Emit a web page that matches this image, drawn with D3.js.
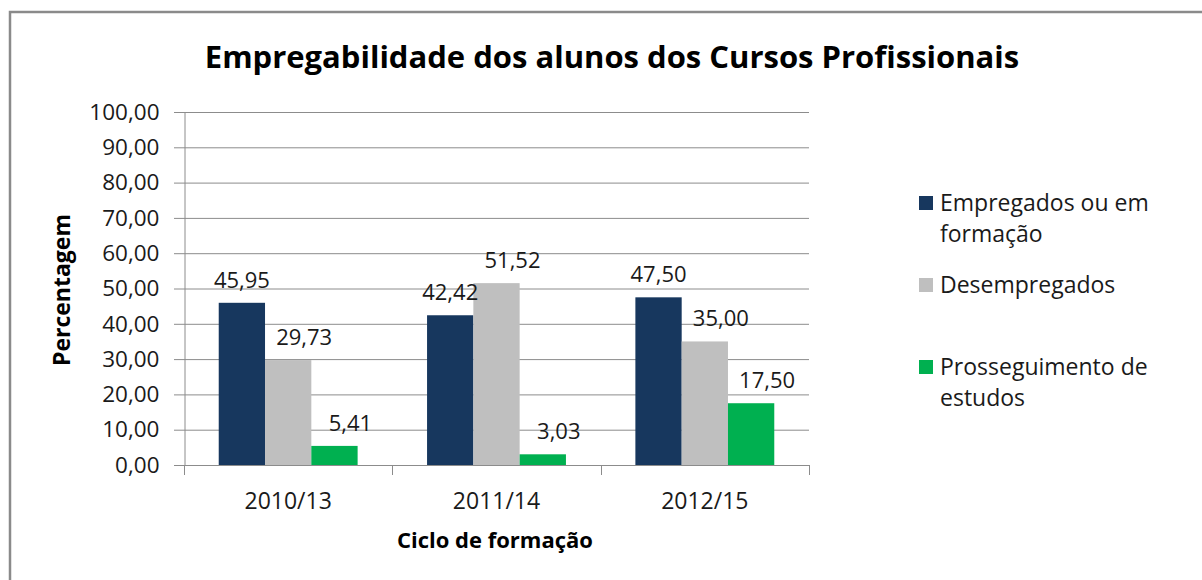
<!DOCTYPE html>
<html>
<head>
<meta charset="utf-8">
<script src="https://cdn.jsdelivr.net/npm/d3@7"></script>
<style>
  html, body { margin: 0; padding: 0; background: #fff; }
  svg { display: block; font-family: "Open Sans", sans-serif; }
</style>
</head>
<body>
<svg id="chart"></svg>
<script>
// dados do gráfico
var categories = ["2010/13", "2011/14", "2012/15"];
var seriesNames = ["Empregados ou em formação", "Desempregados", "Prosseguimento de estudos"];
var empregados = [45.95, 42.42, 47.50];
var desempregados = [29.73, 51.52, 35.00];
var prosseguimento = [5.41, 3.03, 17.50];
var yTicks = [0, 10, 20, 30, 40, 50, 60, 70, 80, 90, 100];

var colors = ["#17375E", "#BFBFBF", "#00B050"];
// deslocamento horizontal dos rótulos por série (como no original)
var labelShift = [0, 16, 16];
var seriesValues = [empregados, desempregados, prosseguimento];

var size = { width: 1202, height: 580 };
var plot = { left: 184, right: 809, top: 112, bottom: 465 };

var locale = d3.formatLocale({ decimal: ",", thousands: ".", grouping: [3], currency: ["", " €"] });
var fmt = locale.format(".2f");

var svg = d3.select("#chart")
  .attr("width", size.width)
  .attr("height", size.height);

// moldura
svg.append("path")
  .attr("d", "M10," + (size.height + 5) + "V12H" + (size.width + 5))
  .attr("fill", "none")
  .attr("stroke", "#8a8a8a")
  .attr("stroke-width", 2.5);

// título
svg.append("text")
  .attr("x", 612)
  .attr("y", 68)
  .attr("text-anchor", "middle")
  .attr("font-size", 31)
  .attr("font-weight", "bold")
  .attr("fill", "#000")
  .text("Empregabilidade dos alunos dos Cursos Profissionais");

var x0 = d3.scaleBand()
  .domain(categories)
  .range([plot.left, plot.right])
  .paddingInner(0.3333)
  .paddingOuter(0.1667);

var x1 = d3.scaleBand()
  .domain(d3.range(seriesNames.length))
  .range([0, x0.bandwidth()]);

var y = d3.scaleLinear()
  .domain([0, 100])
  .range([plot.bottom, plot.top]);

// linhas de grelha
svg.append("g")
  .selectAll("line")
  .data(yTicks)
  .enter()
  .append("line")
  .attr("x1", plot.left - 10)
  .attr("x2", plot.right)
  .attr("y1", function(d){ return y(d) + 0.5; })
  .attr("y2", function(d){ return y(d) + 0.5; })
  .attr("stroke", "#8c8c8c")
  .attr("stroke-width", 1);

// eixo y
var yAxis = d3.axisLeft(y)
  .tickValues(yTicks)
  .tickFormat(fmt)
  .tickSize(0)
  .tickPadding(25);

var gy = svg.append("g")
  .attr("transform", "translate(" + (plot.left + 0.5) + ",0)")
  .call(yAxis);
gy.select(".domain").attr("stroke", "#8c8c8c");
gy.selectAll("text")
  .attr("font-size", 22.5)
  .attr("fill", "#1a1a1a")
  .attr("font-family", "Open Sans, sans-serif");

// eixo x
var outer = x0.step() * x0.paddingOuter();
var catEdges = categories.map(function(c){ return x0(c) - outer; }).concat([plot.right]);

svg.append("line")
  .attr("x1", plot.left)
  .attr("x2", plot.right)
  .attr("y1", plot.bottom + 0.5)
  .attr("y2", plot.bottom + 0.5)
  .attr("stroke", "#8c8c8c");

svg.append("g")
  .selectAll("line")
  .data(catEdges)
  .enter()
  .append("line")
  .attr("x1", function(d){ return Math.round(d) + 0.5; })
  .attr("x2", function(d){ return Math.round(d) + 0.5; })
  .attr("y1", plot.bottom)
  .attr("y2", plot.bottom + 10)
  .attr("stroke", "#8c8c8c");

svg.append("g")
  .selectAll("text")
  .data(categories)
  .enter()
  .append("text")
  .attr("x", function(d){ return x0(d) + x0.bandwidth() / 2; })
  .attr("y", 509)
  .attr("text-anchor", "middle")
  .attr("font-size", 23)
  .attr("fill", "#1a1a1a")
  .text(function(d){ return d; });

// barras
var groups = svg.append("g")
  .selectAll("g")
  .data(categories)
  .enter()
  .append("g")
  .attr("transform", function(d){ return "translate(" + x0(d) + ",0)"; });

groups.selectAll("rect")
  .data(function(d, ci){ return seriesValues.map(function(s, si){ return { si: si, v: s[ci] }; }); })
  .enter()
  .append("rect")
  .attr("x", function(d){ return x1(d.si); })
  .attr("y", function(d){ return y(d.v); })
  .attr("width", x1.bandwidth())
  .attr("height", function(d){ return plot.bottom - y(d.v); })
  .attr("fill", function(d){ return colors[d.si]; });

groups.selectAll("text")
  .data(function(d, ci){ return seriesValues.map(function(s, si){ return { si: si, v: s[ci] }; }); })
  .enter()
  .append("text")
  .attr("x", function(d){ return x1(d.si) + x1.bandwidth() / 2 + labelShift[d.si]; })
  .attr("y", function(d){ return y(d.v) - 15; })
  .attr("text-anchor", "middle")
  .attr("font-size", 22)
  .attr("fill", "#1a1a1a")
  .text(function(d){ return fmt(d.v); });

// títulos dos eixos
svg.append("text")
  .attr("transform", "translate(70,290) rotate(-90)")
  .attr("text-anchor", "middle")
  .attr("font-size", 23)
  .attr("font-weight", "bold")
  .text("Percentagem");

svg.append("text")
  .attr("x", 495)
  .attr("y", 548)
  .attr("text-anchor", "middle")
  .attr("font-size", 22)
  .attr("font-weight", "bold")
  .text("Ciclo de formação");

// legenda
var legend = svg.append("g")
  .selectAll("g")
  .data(seriesNames)
  .enter()
  .append("g")
  .attr("transform", function(d, i){ return "translate(919," + (203 + i * 82) + ")"; });

legend.append("rect")
  .attr("x", 0)
  .attr("y", -7)
  .attr("width", 14)
  .attr("height", 14)
  .attr("fill", function(d, i){ return colors[i]; });

legend.append("text")
  .attr("x", 21)
  .attr("y", 8)
  .attr("font-size", 23)
  .attr("fill", "#1a1a1a")
  .each(function(d){
    // quebra de linha como no original
    var t = d3.select(this);
    var words = d.split(" ");
    var lines = [], cur = [];
    words.forEach(function(w){
      cur.push(w);
      t.text(cur.join(" "));
      if (t.node().getComputedTextLength() > 240 && cur.length > 1) {
        cur.pop();
        lines.push(cur.join(" "));
        cur = [w];
      }
    });
    lines.push(cur.join(" "));
    t.text(null);
    lines.forEach(function(l, li){
      t.append("tspan").attr("x", 21).attr("dy", li === 0 ? 0 : 31).text(l);
    });
  });
</script>
</body>
</html>
